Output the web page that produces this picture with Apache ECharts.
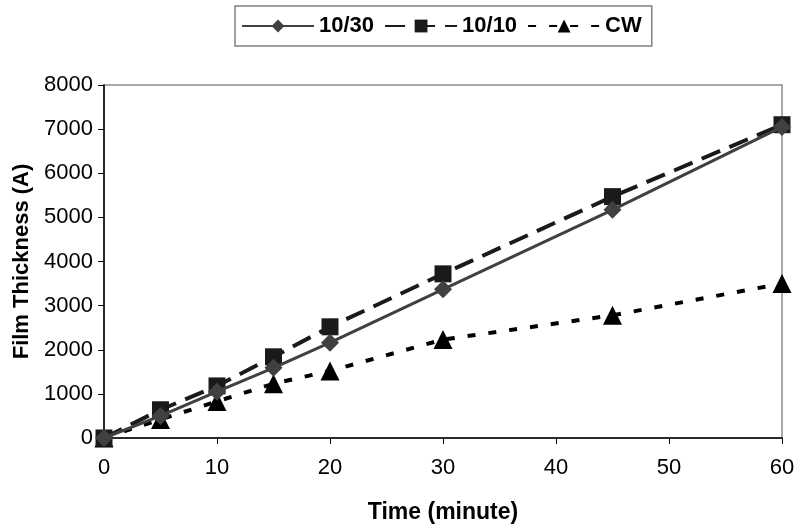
<!DOCTYPE html>
<html>
<head>
<meta charset="utf-8">
<script src="https://cdn.jsdelivr.net/npm/echarts@6/dist/echarts.min.js"></script>
<style>html,body{margin:0;padding:0;background:#fff}#c{width:800px;height:530px}</style>
</head>
<body>
<div id="c"></div>
<script>
const times = [0, 5, 10, 15, 20, 30, 45, 60];
const s1030 = [0, 500, 1050, 1590, 2160, 3370, 5170, 7050];
const s1010 = [0, 640, 1180, 1840, 2520, 3720, 5470, 7100];
const sCW = [0, 420, 830, 1230, 1520, 2230, 2780, 3500];
const xTicks = [0, 10, 20, 30, 40, 50, 60];
const yTicks = [0, 1000, 2000, 3000, 4000, 5000, 6000, 7000, 8000];

const pair = arr => times.map((t, i) => [t, arr[i]]);
const font = '"Liberation Sans", Arial, sans-serif';

const chart = echarts.init(document.getElementById('c'));
chart.setOption({
  animation: false,
  backgroundColor: '#fff',
  grid: { left: 104, right: 18, top: 85, bottom: 92, show: true, borderColor: '#8c8c8c', borderWidth: 1.5 },
  legend: {
    top: 6, left: 235,
    padding: [9, 10, 9, 6],
    borderColor: '#808080', borderWidth: 1.5,
    itemWidth: 72, itemHeight: 16, itemGap: 10,
    textStyle: { fontFamily: font, fontWeight: 'bold', fontSize: 22, color: '#000' },
    data: ['10/30', '10/10', 'CW']
  },
  xAxis: {
    type: 'value', min: 0, max: 60, interval: 10,
    name: 'Time (minute)', nameLocation: 'middle', nameGap: 63,
    nameTextStyle: { fontFamily: font, fontWeight: 'bold', fontSize: 23, color: '#000' },
    axisLine: { lineStyle: { color: '#000', width: 1.5 } },
    axisTick: { show: true, length: 6, lineStyle: { color: '#000' } },
    axisLabel: { fontFamily: font, fontSize: 22, color: '#000', margin: 19,
      formatter: v => xTicks.includes(v) ? String(v) : '' },
    splitLine: { show: false }
  },
  yAxis: {
    type: 'value', min: 0, max: 8000, interval: 1000,
    name: 'Film Thickness (A)', nameLocation: 'middle', nameGap: 64,
    nameTextStyle: { fontFamily: font, fontWeight: 'bold', fontSize: 22, color: '#000' },
    axisLine: { show: true, lineStyle: { color: '#000', width: 1.5 } },
    axisTick: { show: true, length: 6, lineStyle: { color: '#000' } },
    axisLabel: { fontFamily: font, fontSize: 22, color: '#000', margin: 11,
      formatter: v => yTicks.includes(v) ? String(v) : '' },
    splitLine: { show: false }
  },
  series: [
    {
      name: '10/30', type: 'line', data: pair(s1030),
      symbol: 'diamond', symbolSize: 18,
      lineStyle: { color: '#404040', width: 3, type: 'solid' },
      itemStyle: { color: '#404040' }, z: 3
    },
    {
      name: '10/10', type: 'line', data: pair(s1010),
      symbol: 'rect', symbolSize: 17,
      lineStyle: { color: '#1a1a1a', width: 4, type: [20, 10] },
      itemStyle: { color: '#1a1a1a' }, z: 2
    },
    {
      name: 'CW', type: 'line', data: pair(sCW),
      symbol: 'triangle', symbolSize: 19,
      lineStyle: { color: '#000', width: 4, type: [8, 13] },
      itemStyle: { color: '#000' }, z: 1
    }
  ]
});
</script>
</body>
</html>
